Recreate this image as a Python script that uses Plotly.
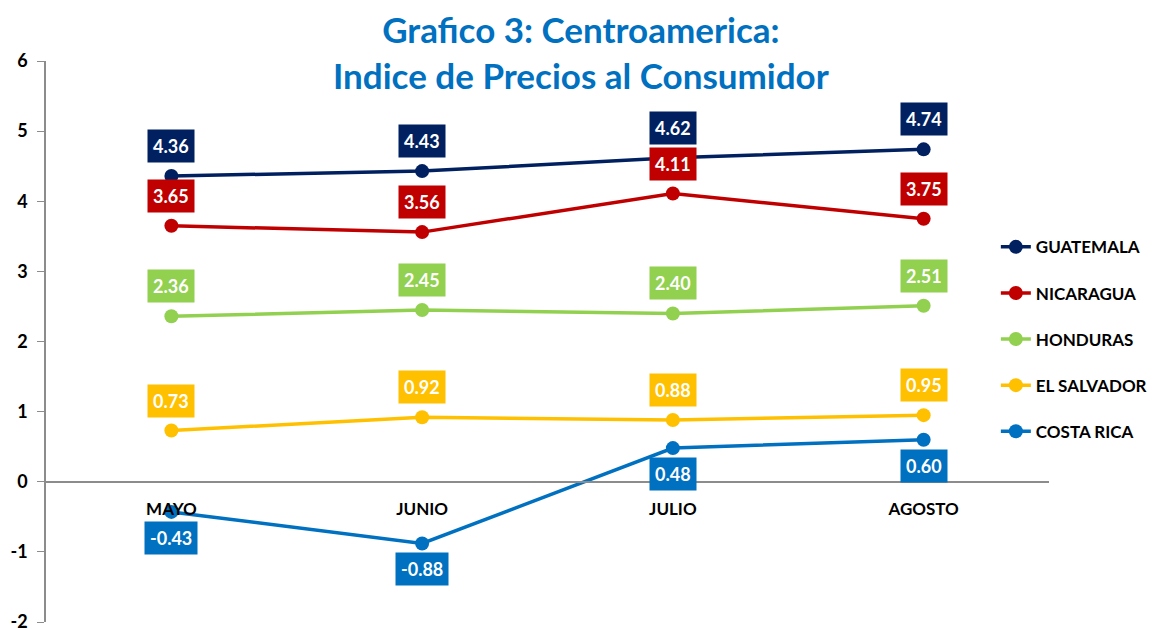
import plotly.graph_objects as go

categories = ["MAYO", "JUNIO", "JULIO", "AGOSTO"]
guatemala = [4.36, 4.43, 4.62, 4.74]
nicaragua = [3.65, 3.56, 4.11, 3.75]
honduras = [2.36, 2.45, 2.40, 2.51]
el_salvador = [0.73, 0.92, 0.88, 0.95]
costa_rica = [-0.43, -0.88, 0.48, 0.60]
y_ticks = [-2, -1, 0, 1, 2, 3, 4, 5, 6]

series = [
    ("GUATEMALA", guatemala, "#002060", "above"),
    ("NICARAGUA", nicaragua, "#C00000", "above"),
    ("HONDURAS", honduras, "#92D050", "above"),
    ("EL SALVADOR", el_salvador, "#FFC000", "above"),
    ("COSTA RICA", costa_rica, "#0070C0", "below"),
]

FONT = "Lato"
fig = go.Figure()
annotations = []
for name, vals, color, pos in series:
    fig.add_trace(go.Scatter(
        x=categories, y=vals, name=name, mode="lines+markers",
        line=dict(color=color, width=3.5),
        marker=dict(color=color, size=14),
        legendgroup=name,
    ))
    for c, v in zip(categories, vals):
        annotations.append(dict(
            x=c, y=v, xref="x", yref="y", text=f"<b>{v:.2f}</b>",
            showarrow=False, bgcolor=color, borderpad=5,
            font=dict(family=FONT, size=18, color="white"),
            yshift=30 if pos == "above" else -26,
        ))

annotations.append(dict(
    x=0.533, y=1.0, xref="paper", yref="paper", yanchor="middle",
    text="<b>Grafico 3: Centroamerica:<br>Indice de Precios al Consumidor</b>",
    showarrow=False, font=dict(family=FONT, size=35, color="#0070C0"),
    yshift=9, borderpad=0, align="center",
))

fig.update_layout(
    width=1156, height=629,
    margin=dict(l=38, r=106, t=53, b=15),
    paper_bgcolor="white", plot_bgcolor="white",
    showlegend=True,
    legend=dict(x=0.947, y=0.700, xanchor="left", yanchor="top",
                font=dict(family=FONT, size=17, color="black", weight="bold"),
                tracegroupgap=21, bgcolor="rgba(0,0,0,0)"),
    annotations=annotations,
    xaxis=dict(type="category", range=[-0.5, 3.5], anchor="free", position=0.25,
               showline=True, linecolor="#8c8c8c", linewidth=1.5, showgrid=False,
               ticks="", ticklabelstandoff=12, automargin=False,
               tickfont=dict(family=FONT, size=17, color="black", weight="bold")),
    yaxis=dict(range=[-2, 6], tickvals=y_ticks, ticktext=[str(t) for t in y_ticks],
               showline=True, linecolor="#8c8c8c", linewidth=1.5, showgrid=False,
               zeroline=False, ticks="outside", ticklen=7, tickcolor="#8c8c8c",
               ticklabelstandoff=6, automargin=False,
               tickfont=dict(family=FONT, size=18, color="black", weight="bold")),
)

fig.write_html("out.html")
